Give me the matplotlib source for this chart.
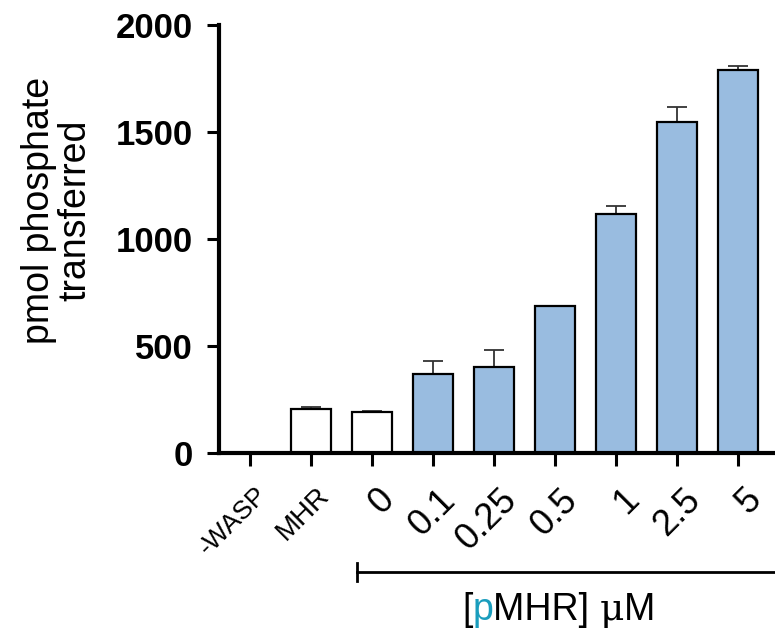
import matplotlib
matplotlib.use("Agg")
import matplotlib.pyplot as plt
from matplotlib.transforms import ScaledTranslation

plt.rcParams['font.family'] = ['Liberation Sans', 'DejaVu Sans']

# data
labels = ['-WASP', 'MHR', '0', '0.1', '0.25', '0.5', '1', '2.5', '5']
label_sizes = [19, 20, 26, 26, 26, 26, 26, 26, 26]
values = [0, 205, 190, 370, 402, 685, 1115, 1545, 1792]
errors = [0, 10, 4, 60, 80, 4, 38, 70, 18]
filled = [False, False, False, True, True, True, True, True, True]

BLUE = '#99bce0'
TEAL = '#1a9dbd'

fig = plt.figure(figsize=(7.75, 6.41), dpi=100)
ax = fig.add_axes([0.2826, 0.2933, 0.7174, 0.6677])

x = list(range(len(labels)))
colors = [BLUE if f else 'white' for f in filled]
ax.bar(x, values, width=0.65, color=colors, edgecolor='black', linewidth=1.6, zorder=2)
ax.errorbar(x, values, yerr=[[0] * len(errors), errors], fmt='none', ecolor='#333333',
            elinewidth=1.3, capsize=7, capthick=1.3, zorder=1)

ax.set_xlim(-0.5, 8.6)
ax.set_ylim(0, 2000)
ax.set_yticks([0, 500, 1000, 1500, 2000])

for side in ['top', 'right']:
    ax.spines[side].set_visible(False)
ax.spines['left'].set_linewidth(3)
ax.spines['bottom'].set_linewidth(3)
ax.tick_params(axis='both', length=9, width=2.2)
ax.tick_params(axis='y', labelsize=25, pad=10)
ax.tick_params(axis='x', pad=12)
for t in ax.get_yticklabels():
    t.set_fontweight('bold')

ax.set_xticks(x)
ax.set_xticklabels(labels, rotation=45, ha='right', va='top', rotation_mode='anchor')
shift = ScaledTranslation(5 / 100, 0, fig.dpi_scale_trans)
for t, s in zip(ax.get_xticklabels(), label_sizes):
    t.set_fontsize(s)
    t.set_transform(t.get_transform() + shift)

fig.text(57 / 775, 1 - 210 / 641, 'pmol phosphate\ntransferred', rotation=90,
         ha='center', va='center', fontsize=27, linespacing=1.0)

# bracket under the pMHR concentrations
fig.add_artist(plt.Line2D([357 / 775, 1.0], [1 - 572 / 641] * 2, color='black', lw=2))
fig.add_artist(plt.Line2D([357 / 775] * 2, [1 - 563 / 641, 1 - 581 / 641], color='black', lw=2))

t1 = fig.text(462 / 775, 1 - 628 / 641, '[', fontsize=27, va='bottom')
t2 = ax.annotate('p', xy=(1, 0), xycoords=t1, fontsize=27, va='bottom', color=TEAL)
t3 = ax.annotate('MHR] ', xy=(1, 0), xycoords=t2, fontsize=27, va='bottom')
t4 = ax.annotate('\u03bc', xy=(1, 0), xycoords=t3, fontsize=27, va='bottom',
                 family=['DejaVu Serif'])
ax.annotate('M', xy=(1, 0), xycoords=t4, fontsize=27, va='bottom')

fig.savefig('out.png', dpi=100)
